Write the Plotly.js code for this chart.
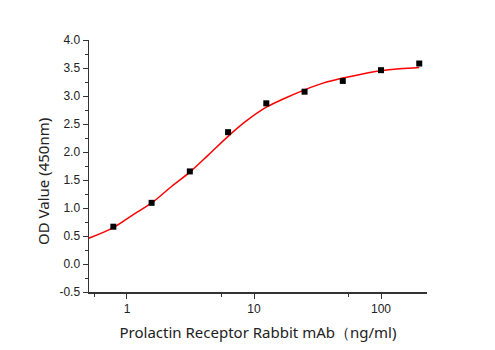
<!DOCTYPE html>
<html>
<head>
<meta charset="utf-8">
<script src="https://cdn.plot.ly/plotly-3.0.1.min.js"></script>
<style>html,body{margin:0;padding:0;background:#fff;}#chart{width:495px;height:350px;}</style>
</head>
<body>
<div id="chart"></div>
<script>
// Measured points
const concentration = [0.78125, 1.5625, 3.125, 6.25, 12.5, 25, 50, 100, 200];
const odValue = [0.666, 1.092, 1.653, 2.354, 2.869, 3.077, 3.269, 3.461, 3.580];
// Fitted curve
const fitX = [0.5, 0.78125, 1.1, 1.5625, 2.23, 3.125, 4.34, 6.25, 8.65, 12.5, 17.5, 25, 35, 50, 70, 100, 140, 200];
const fitY = [0.46, 0.65, 0.87, 1.09, 1.38, 1.64, 1.94, 2.28, 2.55, 2.80, 2.96, 3.11, 3.23, 3.32, 3.39, 3.45, 3.485, 3.51];
// Axis ticks
const xTickVals = [1, 10, 100];
const xTickText = ['1', '10', '100'];
const xMinorVals = [0.55, 5.5, 55];
const yTickVals = [-0.5, 0, 0.5, 1, 1.5, 2, 2.5, 3, 3.5, 4];
const yTickText = ['-0.5', '0.0', '0.5', '1.0', '1.5', '2.0', '2.5', '3.0', '3.5', '4.0'];
const xTitle = 'Prolactin Receptor Rabbit mAb（ng/ml)';
const yTitle = 'OD Value (450nm)';

const font = 'Liberation Sans, Arial, sans-serif';
const titleFont = 'Noto Sans, Open Sans, sans-serif';
const traces = [
  {x: fitX, y: fitY, type: 'scatter', mode: 'lines', line: {color: '#ff0000', width: 1.5, shape: 'spline', smoothing: 1}, hoverinfo: 'skip'},
  {x: concentration, y: odValue, type: 'scatter', mode: 'markers', marker: {symbol: 'square', size: 6, color: '#000'}}
];
const layout = {
  width: 495, height: 350,
  margin: {l: 89, r: 68, t: 40, b: 58},
  showlegend: false,
  paper_bgcolor: '#fff', plot_bgcolor: '#fff',
  font: {family: font, color: '#222', size: 12},
  xaxis: {
    type: 'log', range: [-0.299, 2.362],
    showgrid: false, zeroline: false,
    showline: true, linecolor: '#333', linewidth: 1.5,
    ticks: 'outside', ticklen: 5, tickwidth: 1, tickcolor: '#333',
    tickmode: 'array', tickvals: xTickVals, ticktext: xTickText,
    minor: {tickvals: xMinorVals, ticks: 'outside', ticklen: 3, tickcolor: '#333', showgrid: false},
    tickfont: {size: 12, family: font, color: '#222'},
    title: {text: xTitle, font: {size: 15, family: titleFont, color: '#222'}, standoff: 12}
  },
  yaxis: {
    range: [-0.5, 4.0],
    showgrid: false, zeroline: false,
    showline: true, linecolor: '#333', linewidth: 1.5,
    ticks: 'outside', ticklen: 5, tickwidth: 1, tickcolor: '#333',
    tickmode: 'array', tickvals: yTickVals, ticktext: yTickText,
    minor: {dtick: 0.25, tick0: -0.5, ticks: 'outside', ticklen: 3, tickcolor: '#333', showgrid: false},
    tickfont: {size: 12, family: font, color: '#222'},
    title: {text: ''}
  },
  annotations: [{
    text: yTitle, xref: 'paper', yref: 'paper', x: -0.136, y: 0.4365,
    xanchor: 'center', yanchor: 'middle', textangle: -90, showarrow: false,
    font: {size: 15, family: titleFont, color: '#222'}
  }]
};
Plotly.newPlot('chart', traces, layout, {displayModeBar: false, staticPlot: true});
</script>
</body>
</html>
